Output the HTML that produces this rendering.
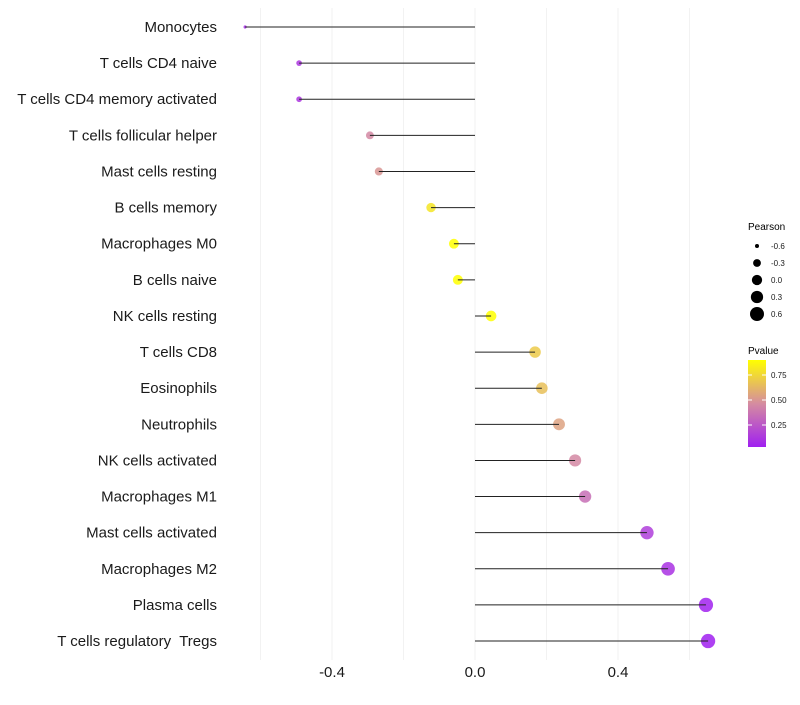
<!DOCTYPE html>
<html><head><meta charset="utf-8"><style>
body{margin:0;background:#fff;font-family:"Liberation Sans",sans-serif}
svg text{font-family:"Liberation Sans",sans-serif;white-space:pre}
</style></head><body>
<svg id="chart" width="800" height="700" xmlns="http://www.w3.org/2000/svg">
<g id="grid"></g>
<g id="dots"></g>
<g id="marks"></g>
<g id="ylabels"></g>
<g id="xlabels"></g>
<g>
<text x="748" y="230" font-size="10" fill="#000">Pearson</text>
<g id="sizeLegend"></g>
</g>
<g>
<text x="748" y="354" font-size="10" fill="#000">Pvalue</text>
<defs><linearGradient id="pg" x1="0" y1="1" x2="0" y2="0"><stop offset="0" stop-color="#A020F0"/><stop offset="0.5" stop-color="#D58CA0"/><stop offset="1" stop-color="#FFFF00"/></linearGradient></defs>
<rect x="748" y="360" width="18" height="87" fill="url(#pg)"/>
<g id="cbTicks"></g>
</g>
</svg>
<script>
const categories=["Monocytes","T cells CD4 naive","T cells CD4 memory activated","T cells follicular helper","Mast cells resting","B cells memory","Macrophages M0","B cells naive","NK cells resting","T cells CD8","Eosinophils","Neutrophils","NK cells activated","Macrophages M1","Mast cells activated","Macrophages M2","Plasma cells","T cells regulatory  Tregs"];
const pearson=[-0.643,-0.492,-0.492,-0.294,-0.269,-0.123,-0.059,-0.048,0.045,0.168,0.187,0.235,0.28,0.308,0.481,0.54,0.646,0.652];
const pvalue=[0.08,0.12,0.12,0.45,0.5,0.8,0.95,0.95,0.97,0.7,0.66,0.55,0.45,0.35,0.15,0.1,0.04,0.03];
const xTicks=[-0.4,0.0,0.4];
const xTickLabels=["-0.4","0.0","0.4"];
const sizeLegendVals=[-0.6,-0.3,0.0,0.3,0.6];
const cbTickVals=[0.25,0.5,0.75];
const NS="http://www.w3.org/2000/svg";
function X(v){return 475+v*357.5;}
function Y(i){return 27+i*36.12;}
function R(v){return Math.sqrt(Math.max(2.5,26.5+37.5*v));}
function lerp(a,b,t){return Math.round(a+(b-a)*t);}
function col(p){let t=(p-0.03)/0.87;t=Math.max(0,Math.min(1,t));
 let c0=[160,32,240],c1=[213,140,160],c2=[255,255,0],a,b,u;
 if(t<0.5){a=c0;b=c1;u=t/0.5}else{a=c1;b=c2;u=(t-0.5)/0.5}
 return `rgb(${lerp(a[0],b[0],u)},${lerp(a[1],b[1],u)},${lerp(a[2],b[2],u)})`;}
function mk(tag,attrs,parent){const e=document.createElementNS(NS,tag);for(const k in attrs)e.setAttribute(k,attrs[k]);parent.appendChild(e);return e;}
const grid=document.getElementById('grid');
for(let v=-0.6;v<=0.61;v+=0.2){
 const l=mk('line',{x1:X(v),x2:X(v),y1:8,y2:660,stroke:'#f2f2f2','stroke-width':1},grid);
 
 
}
const dots=document.getElementById('dots'),marks=document.getElementById('marks'),yl=document.getElementById('ylabels'),xl=document.getElementById('xlabels');
categories.forEach((c,i)=>{
 const d=mk('circle',{cx:X(pearson[i]),cy:Y(i),r:R(pearson[i]),fill:col(pvalue[i]),'fill-opacity':0.85},dots);
 
 
 const l=mk('line',{x1:X(0),x2:X(pearson[i]),y1:Y(i),y2:Y(i),stroke:'#222','stroke-width':1},marks);
 
 
 const t=mk('text',{x:217,y:Y(i)+5,'font-size':15,'text-anchor':'end',fill:'#1a1a1a'},yl);
 t.textContent=c;
 
 
});
xTicks.forEach((v,i)=>{
 const t=mk('text',{x:X(v),y:677,'font-size':15,'text-anchor':'middle',fill:'#1a1a1a'},xl);
 t.textContent=xTickLabels[i];
 
 
});
const sl=document.getElementById('sizeLegend');
sizeLegendVals.forEach((v,i)=>{
 const y=246+i*17;
 const c=mk('circle',{cx:757,cy:y,r:R(v),fill:'#000'},sl);
 
 
 const t=mk('text',{x:771,y:y+3,'font-size':8,fill:'#1a1a1a'},sl);
 t.textContent=v.toFixed(1);
 
 
});
const cb=document.getElementById('cbTicks');
cbTickVals.forEach(v=>{
 const y=450-v*100;
 mk('line',{x1:748,x2:752,y1:y,y2:y,stroke:'#fff'},cb);
 mk('line',{x1:762,x2:766,y1:y,y2:y,stroke:'#fff'},cb);
 const t=mk('text',{x:771,y:y+3,'font-size':8,fill:'#1a1a1a'},cb);
 t.textContent=v.toFixed(2);
 
 
});
</script>
</body></html>
